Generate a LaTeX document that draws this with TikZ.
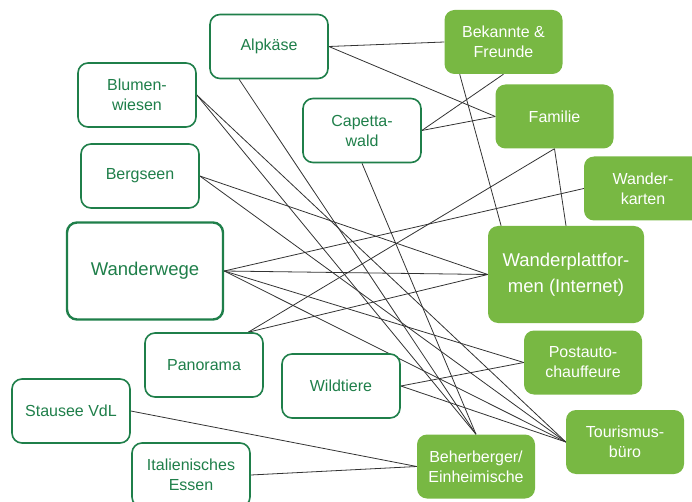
\documentclass[tikz,border=0pt]{standalone}
\usepackage{fontspec}
\setmainfont{Liberation Sans}
\usetikzlibrary{calc,backgrounds}
\definecolor{rim}{HTML}{1F7F4A}
\definecolor{leaf}{HTML}{78B843}
\begin{document}
\begin{tikzpicture}[x=1pt,y=-1pt,
    topic/.style={draw=rim, line width=1.6pt, fill=white, rounded corners=10pt, text=rim, minimum width=118pt, minimum height=64pt, inner sep=0pt, align=center, font=\fontsize{16}{20}\selectfont},
    actor/.style={fill=leaf, rounded corners=10pt, text=white, minimum width=118pt, minimum height=64pt, inner sep=0pt, align=center, font=\fontsize{16}{20}\selectfont},
    big/.style={minimum width=156pt, minimum height=97pt, font=\fontsize{18.5}{26}\selectfont},
    link/.style={draw=black!80, line width=0.8pt}]
    \useasboundingbox (0,0) rectangle (692,502);
    \clip (0,0) rectangle (692,502);

    % Topics (left)
    \node[topic] (alp) at (269,46.5) {Alpkäse};
    \node[topic] (blu) at (137,95) {Blumen-\\wiesen};
    \node[topic] (berg) at (140,176) {Bergseen};
    \node[topic, big, line width=2.4pt] (weg) at (145,271) {Wanderwege};
    \node[topic] (cap) at (362,130.5) {Capetta-\\wald};
    \node[topic] (pan) at (204,365) {Panorama};
    \node[topic] (wild) at (341,386) {Wildtiere};
    \node[topic] (stau) at (71,411) {Stausee VdL};
    \node[topic] (ital) at (191,475) {Italienisches\\Essen};

    % Actors (right)
    \node[actor] (bek) at (503.5,42) {Bekannte \&\\Freunde};
    \node[actor] (fam) at (554.5,116.5) {Familie};
    \node[actor] (karten) at (643,188.5) {Wander-\\karten};
    \node[actor, big] (platt) at (566,274.5) {Wanderplattfor-\\men (Internet)};
    \node[actor] (post) at (583,362.5) {Postauto-\\chauffeure};
    \node[actor] (tour) at (625,442) {Tourismus-\\büro};
    \node[actor] (beh) at (476,466.5) {Beherberger/\\Einheimische};

    % extra ports
    \coordinate (alp-s) at ($(alp.south west)!.25!(alp.south east)$);
    \coordinate (pan-n) at ($(pan.north west)!.87!(pan.north east)$);
    \coordinate (bek-s) at ($(bek.south west)!.13!(bek.south east)$);
    \coordinate (platt-n) at ($(platt.north west)!.085!(platt.north east)$);

    % Links
    \begin{scope}[on background layer]
    \foreach \a/\b in {alp.east/bek.west, alp.east/fam.west, alp-s/beh.north,
        blu.east/beh.north, blu.east/tour.west,
        berg.east/platt.west, berg.east/tour.west,
        weg.east/karten.west, weg.east/platt.west, weg.east/post.west, weg.east/tour.west,
        cap.east/bek.south, cap.east/fam.west, cap.south/beh.north,
        pan-n/fam.south, pan-n/platt.west,
        wild.east/post.west, wild.east/tour.west,
        stau.east/beh.west, ital.east/beh.west,
        bek-s/platt-n, fam.south/platt.north}
        \draw[link] (\a) -- (\b);
    \end{scope}
\end{tikzpicture}
\end{document}
